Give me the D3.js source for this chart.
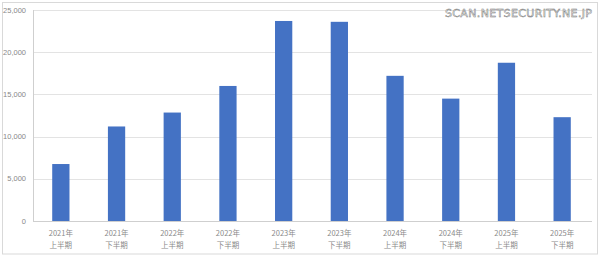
<!DOCTYPE html>
<html>
<head>
<meta charset="utf-8">
<script src="https://cdn.jsdelivr.net/npm/d3@7"></script>
<style>
  body { margin: 0; background: #fff; }
  svg { display: block; }
</style>
</head>
<body>
<svg width="600" height="257"></svg>
<script>
// data
const years = ['2021年', '2021年', '2022年', '2022年', '2023年', '2023年', '2024年', '2024年', '2025年', '2025年'];
const halves = ['上半期', '下半期', '上半期', '下半期', '上半期', '下半期', '上半期', '下半期', '上半期', '下半期'];
const values = [6750, 11200, 12850, 16000, 23700, 23600, 17200, 14500, 18750, 12300];
const yTicks = [0, 5000, 10000, 15000, 20000, 25000];

const svg = d3.select('svg');
const plotL = 33, plotR = 590, plotT = 10, plotB = 221;

// outer frame
svg.append('rect')
    .attr('x', 2.5).attr('y', 2.5)
    .attr('width', 595).attr('height', 251.5)
    .attr('fill', 'none')
    .attr('stroke', '#d9d9d9');

const x = d3.scaleBand()
    .domain(d3.range(values.length))
    .range([plotL, plotR])
    .paddingInner(0.69)
    .paddingOuter(0.345);

const y = d3.scaleLinear().domain([0, 25000]).range([plotB, plotT]);

// gridlines
svg.append('g')
    .selectAll('line')
    .data(yTicks.slice(1))
    .join('line')
    .attr('x1', plotL).attr('x2', plotR + 2)
    .attr('y1', d => Math.round(y(d)) + 0.5)
    .attr('y2', d => Math.round(y(d)) + 0.5)
    .attr('stroke', '#e3e3e3');

// y tick labels
svg.append('g')
    .selectAll('text')
    .data(yTicks)
    .join('text')
    .attr('x', 26)
    .attr('y', d => y(d))
    .attr('dy', '0.35em')
    .attr('text-anchor', 'end')
    .attr('fill', '#888')
    .style('font-family', 'Liberation Sans, Arial, sans-serif')
    .style('font-size', '7.5px')
    .text(d => d3.format(',')(d));

// bars
svg.append('g')
    .selectAll('rect')
    .data(values)
    .join('rect')
    .attr('x', (d, i) => x(i))
    .attr('y', d => y(d))
    .attr('width', x.bandwidth())
    .attr('height', d => y(0) - y(d))
    .attr('fill', '#4472c4');

// axes lines
svg.append('line')
    .attr('x1', plotL + 0.5).attr('x2', plotL + 0.5)
    .attr('y1', plotT).attr('y2', plotB)
    .attr('stroke', '#cfcfcf');
svg.append('line')
    .attr('x1', plotL).attr('x2', plotR + 2)
    .attr('y1', plotB + 0.5).attr('y2', plotB + 0.5)
    .attr('stroke', '#cfcfcf');

// x labels (two lines)
const xl = svg.append('g')
    .selectAll('text')
    .data(values)
    .join('text')
    .attr('text-anchor', 'middle')
    .attr('fill', '#8a8a8a')
    .style('font-family', 'Noto Sans CJK JP, sans-serif')
    .style('font-size', '7.5px');
xl.append('tspan')
    .attr('x', (d, i) => x(i) + x.bandwidth() / 2)
    .attr('y', 236)
    .text((d, i) => years[i]);
xl.append('tspan')
    .attr('x', (d, i) => x(i) + x.bandwidth() / 2)
    .attr('y', 247.5)
    .text((d, i) => halves[i]);

// watermark
svg.append('text')
    .attr('x', 592)
    .attr('y', 17)
    .attr('text-anchor', 'end')
    .attr('fill', '#fff')
    .attr('stroke', '#777')
    .attr('stroke-width', 0.5)
    .style('font-family', 'DejaVu Sans, sans-serif')
    .style('font-size', '11px')
    .attr('textLength', 147)
    .text('SCAN.NETSECURITY.NE.JP');
</script>
</body>
</html>
